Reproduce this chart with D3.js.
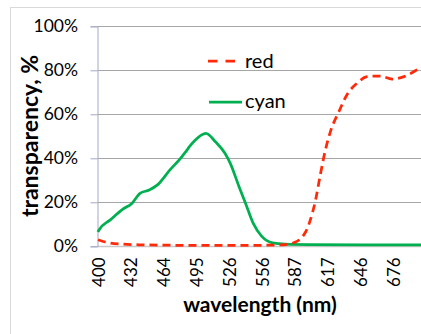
<!DOCTYPE html>
<html>
<head>
<meta charset="utf-8">
<script src="https://cdn.jsdelivr.net/npm/d3@7"></script>
<style>
body { margin: 0; background: #fff; }
text { font-family: Lato, "Open Sans", sans-serif; fill: #000; }
</style>
</head>
<body>
<svg width="421" height="334"></svg>
<script>
var svg = d3.select('svg');
var width = 421;
var height = 334;

// category labels shown on the x axis (nm)
var xTickLabels = [400, 432, 464, 495, 526, 556, 587, 617, 646, 676];
var yTicks = [0, 20, 40, 60, 80, 100];

// cyan filter transmission
var cyanWl  = [400, 401, 412, 424, 433, 441, 450, 458, 470, 480, 485, 489, 494, 504, 513, 522, 527, 535, 541, 548, 556, 566, 578, 600, 650, 710];
var cyanVal = [6.5, 7.4, 12, 16.8, 19.5, 24.1, 25.6, 27.9, 34.7, 40, 43, 45.6, 48.3, 51.3, 47.5, 42.3, 37.7, 27.1, 19.5, 10.4, 4.4, 1.6, 1.0, 0.8, 0.7, 0.6];

// red filter transmission
var redWl  = [400, 405, 412, 425, 440, 470, 500, 530, 560, 576, 586, 597, 603, 606, 610, 615, 620, 627, 634, 643, 652, 664, 675, 686, 701, 710];
var redVal = [3.0, 2.2, 1.5, 1.0, 0.7, 0.5, 0.4, 0.4, 0.5, 0.7, 1.6, 6.6, 15, 21, 31.6, 43.8, 52.9, 61.2, 68.8, 74.1, 77.1, 77.4, 76, 77.1, 80.9, 82];

var plotLeft = 97.5, plotTop = 26.3, plotBottom = 246.3, step = 32.8;

var x = d3.scaleLinear()
  .domain(xTickLabels)
  .range(xTickLabels.map(function(d, i){ return plotLeft + 0.5 + i * step; }));
var y = d3.scaleLinear().domain([0, 100]).range([plotBottom, plotTop]);

// outer chart border
svg.append('rect')
  .attr('x', 10.5).attr('y', 7.5)
  .attr('width', 600).attr('height', 600)
  .attr('fill', 'none').attr('stroke', '#d9d9d9');

// gridlines
svg.selectAll('.grid')
  .data(yTicks.filter(function(d){ return d > 0; }))
  .enter().append('line')
  .attr('x1', plotLeft).attr('x2', width)
  .attr('y1', function(d){ return Math.round(y(d)) + 0.5; })
  .attr('y2', function(d){ return Math.round(y(d)) + 0.5; })
  .attr('stroke', '#a6a6a6');

// x axis line
svg.append('line')
  .attr('x1', plotLeft).attr('x2', width)
  .attr('y1', Math.round(y(0)) + 0.5).attr('y2', Math.round(y(0)) + 0.5)
  .attr('stroke', '#c8c8c8').attr('stroke-width', 1.5);

// y axis
var yAxis = d3.axisLeft(y)
  .tickValues(yTicks)
  .tickSize(7)
  .tickFormat(function(d){ return d + '%'; });
var ya = svg.append('g').attr('transform', 'translate(' + plotLeft + ',0)').call(yAxis);
ya.select('.domain').attr('stroke', '#a3a8c8');
ya.selectAll('.tick line').attr('stroke', '#a3a8c8');
ya.selectAll('.tick text')
  .attr('x', -19.5)
  .attr('font-size', '17.5px')
  .attr('font-family', 'Lato, sans-serif')
  .attr('fill', '#000');

// x tick labels (rotated)
var xa = svg.append('g').attr('transform', 'translate(0,' + plotBottom + ')')
  .call(d3.axisBottom(x).tickValues(xTickLabels).tickSize(0).tickFormat(d3.format('d')));
xa.select('.domain').remove();
xa.selectAll('.tick text')
  .attr('transform', 'rotate(-90)')
  .attr('x', -11)
  .attr('y', 0)
  .attr('dy', '0.36em')
  .attr('text-anchor', 'end')
  .attr('font-size', '17px')
  .attr('font-family', 'Lato, sans-serif')
  .attr('fill', '#000');

// lines
var line = d3.line()
  .x(function(d){ return x(d[0]); })
  .y(function(d){ return y(d[1]); })
  .curve(d3.curveMonotoneX);

svg.append('path')
  .datum(d3.zip(cyanWl, cyanVal))
  .attr('d', line)
  .attr('fill', 'none')
  .attr('stroke', '#00b050')
  .attr('stroke-width', 2.75);

svg.append('path')
  .datum(d3.zip(redWl, redVal))
  .attr('d', line)
  .attr('fill', 'none')
  .attr('stroke', '#ff2a0a')
  .attr('stroke-width', 2.75)
  .attr('stroke-dasharray', '8,5');

// legend
svg.append('line')
  .attr('x1', 208).attr('x2', 236).attr('y1', 61).attr('y2', 61)
  .attr('stroke', '#ff2a0a').attr('stroke-width', 2.75)
  .attr('stroke-dasharray', '9.5,8');
svg.append('text').attr('x', 245).attr('y', 68)
  .attr('font-size', '20px').text('red');
svg.append('line')
  .attr('x1', 209).attr('x2', 242).attr('y1', 102).attr('y2', 102)
  .attr('stroke', '#00b050').attr('stroke-width', 2.75);
svg.append('text').attr('x', 245).attr('y', 108)
  .attr('font-size', '20px').text('cyan');

// axis titles
svg.append('text')
  .attr('x', 260).attr('y', 312)
  .attr('text-anchor', 'middle')
  .attr('font-size', '21px')
  .attr('font-weight', 'bold')
  .text('wavelength (nm)');

svg.append('text')
  .attr('transform', 'translate(38,136) rotate(-90)')
  .attr('text-anchor', 'middle')
  .attr('font-size', '23px')
  .attr('font-weight', 'bold')
  .text('transparency, %');
</script>
</body>
</html>
